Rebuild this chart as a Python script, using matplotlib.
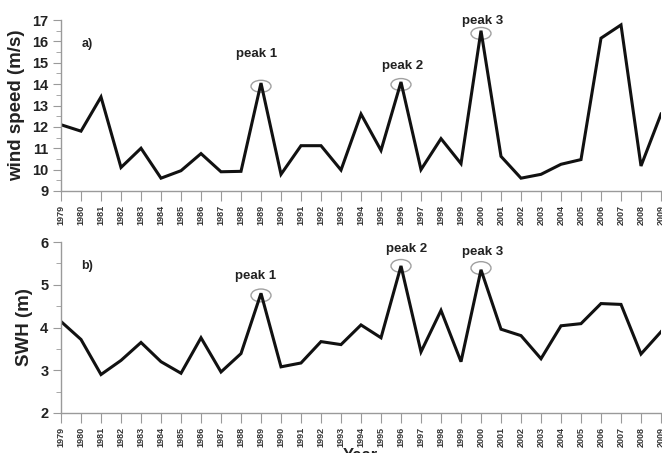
import matplotlib
matplotlib.use("Agg")
import matplotlib.pyplot as plt
from matplotlib.patches import Ellipse
from matplotlib.ticker import MultipleLocator

plt.rcParams['font.family'] = ['Liberation Sans', 'DejaVu Sans']

years = list(range(1979, 2010))
wind = [12.1, 11.8, 13.4, 10.1, 11.0, 9.6, 9.95, 10.75, 9.9, 9.92, 14.05,
        9.78, 11.12, 11.12, 9.98, 12.6, 10.9, 14.1, 10.0, 11.45, 10.28, 16.5,
        10.62, 9.6, 9.78, 10.25, 10.47, 16.15, 16.77, 10.17, 12.6]
swh = [4.14, 3.72, 2.9, 3.23, 3.65, 3.2, 2.93, 3.76, 2.96, 3.39, 4.8,
       3.08, 3.17, 3.67, 3.6, 4.06, 3.76, 5.44, 3.43, 4.4, 3.2, 5.35,
       3.96, 3.81, 3.27, 4.04, 4.09, 4.56, 4.54, 3.38, 3.9]
peak_years = [1989, 1996, 2000]
peak_labels = ["peak 1", "peak 2", "peak 3"]

W, H = 662, 453
fig = plt.figure(figsize=(W / 100, H / 100), dpi=100)

def px_axes(l, t, r, b):
    return fig.add_axes([l / W, 1 - b / H, (r - l) / W, (b - t) / H])

ax1 = px_axes(61, 20, 661, 191)
ax2 = px_axes(61, 242, 661, 413)

gray = '#9a9a9a'
for ax, data, ylim, ylabel, panel in [
        (ax1, wind, (9, 17), 'wind speed (m/s)', 'a)'),
        (ax2, swh, (2, 6), 'SWH (m)', 'b)')]:
    ax.plot(years, data, color='#111111', lw=2.2, solid_joinstyle='miter')
    ax.set_xlim(1979, 2009)
    ax.set_ylim(*ylim)
    for s in ['top', 'right']:
        ax.spines[s].set_visible(False)
    for s in ['left', 'bottom']:
        ax.spines[s].set_color(gray)
        ax.spines[s].set_linewidth(1.0)
    ax.set_xticks(years)
    ax.set_xticklabels([str(y) for y in years], rotation=90, fontsize=6.5,
                       fontweight='bold', color='#333333')
    ax.yaxis.set_major_locator(MultipleLocator(1))
    ax.yaxis.set_minor_locator(MultipleLocator(0.5))
    ax.tick_params(axis='y', which='major', labelsize=10.5, length=6,
                   color=gray, pad=3)
    ax.tick_params(axis='y', which='minor', length=3.5, color=gray)
    ax.tick_params(axis='x', length=7, color=gray, pad=3)
    for lab in ax.get_yticklabels():
        lab.set_fontweight('bold')
        lab.set_color('#222222')
    ax.set_ylabel(ylabel, fontsize=13.5, fontweight='bold', color='#222222',
                  labelpad=5)
    ax.text(1980.3, ylim[1] - (ylim[1] - ylim[0]) * 0.14, panel,
            fontsize=9, fontweight='bold', ha='center', va='center',
            color='#222222')

# peak annotations (top)
top_txt = [(1988.8, 15.4), (1996.1, 14.85), (2000.1, 16.95)]
top_ell = [13.9, 13.98, 16.37]
for (yr, lab), (tx, ty), ey in zip(zip(peak_years, peak_labels), top_txt, top_ell):
    ax1.text(tx, ty, lab, fontsize=9.5, fontweight='bold', ha='center',
             va='center', color='#222222')
    ax1.add_patch(Ellipse((yr, ey), 1.0, 0.56, fill=False, ec='#a0a0a0',
                          lw=1.0, clip_on=False))

bot_txt = [(1988.75, 5.21), (1996.3, 5.84), (2000.1, 5.77)]
bot_ell = [4.75, 5.44, 5.39]
for (yr, lab), (tx, ty), ey in zip(zip(peak_years, peak_labels), bot_txt, bot_ell):
    ax2.text(tx, ty, lab, fontsize=9.5, fontweight='bold', ha='center',
             va='center', color='#222222')
    ax2.add_patch(Ellipse((yr, ey), 1.0, 0.3, fill=False, ec='#a0a0a0',
                          lw=1.0, clip_on=False))

fig.text(360 / W, 1 - 448 / H, 'Year', fontsize=12, fontweight='bold',
         ha='center', va='top', color='#222222')

fig.savefig('out.png', dpi=100)
